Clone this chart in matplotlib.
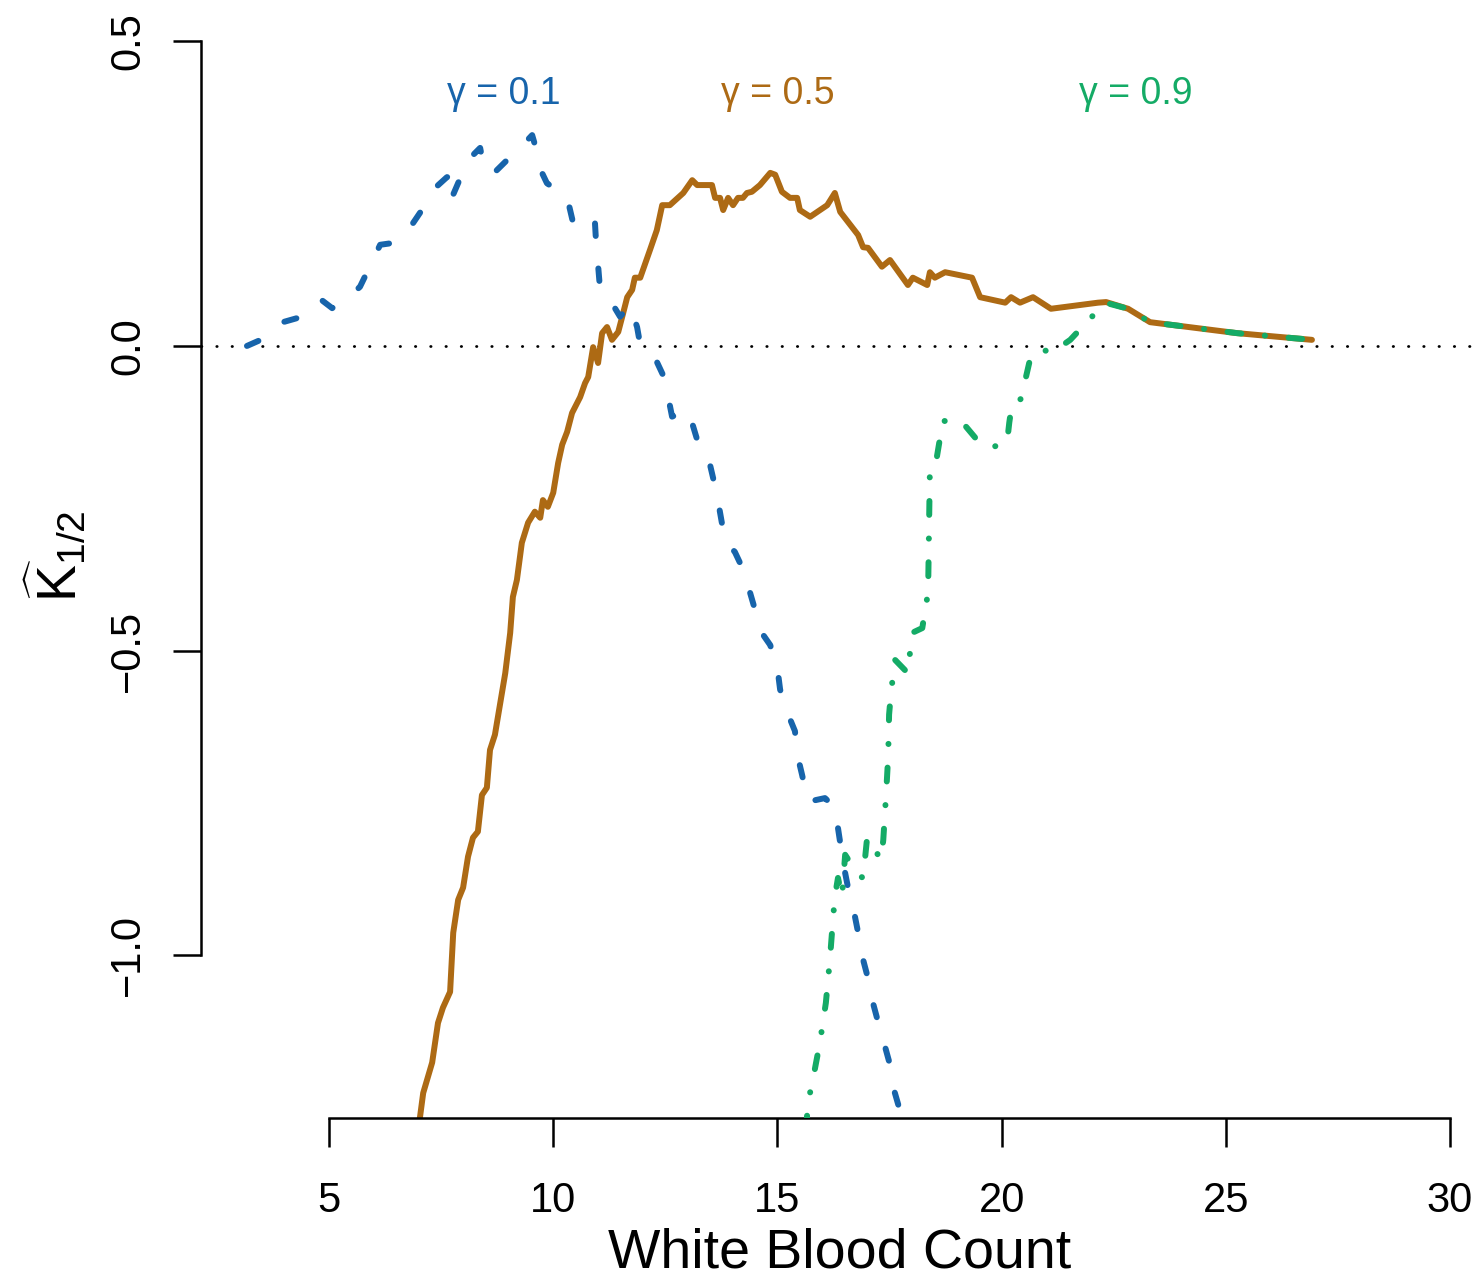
import numpy as np
import matplotlib
matplotlib.use("Agg")
import matplotlib.pyplot as plt

plt.rcParams['font.family'] = ['Liberation Sans', 'DejaVu Sans']
plt.rcParams['mathtext.fontset'] = 'custom'
plt.rcParams['mathtext.rm'] = 'Liberation Sans'
plt.rcParams['mathtext.it'] = 'Liberation Sans:italic'
plt.rcParams['lines.scale_dashes'] = False

## curve for gamma = 0.1 (dashed, blue)
wbc_g1 = [3.17, 3.57, 3.97, 4.40, 4.84, 5.07, 5.42, 5.69, 5.96, 6.14, 6.43, 6.63,
          6.85, 7.07, 7.36, 7.63, 7.70, 7.72, 8.10, 8.37, 8.43, 8.64, 8.97, 9.22,
          9.53, 9.64, 9.75, 9.86, 10.31, 10.44, 10.71, 10.93, 10.95, 11.04, 11.27,
          11.49, 11.71, 11.87, 11.94, 12.11, 12.31, 12.45, 12.54, 12.65, 13.01,
          13.21, 13.43, 13.56, 13.65, 13.76, 13.79, 14.05, 14.21, 14.39, 14.50,
          14.68, 14.84, 15.01, 15.06, 15.24, 15.39, 15.46, 15.55, 15.68, 16.06,
          16.33, 16.35, 16.44, 16.51, 16.62, 16.73, 16.84, 16.91, 17.07, 17.13,
          17.29, 17.40, 17.56, 17.60, 17.78, 17.85]
k_g1 = [0.000, 0.013, 0.039, 0.048, 0.075, 0.062, 0.079, 0.097, 0.138, 0.166, 0.169, 0.187,
        0.199, 0.223, 0.259, 0.277, 0.278, 0.240, 0.305, 0.325, 0.302, 0.281, 0.305, 0.322,
        0.346, 0.318, 0.284, 0.267, 0.244, 0.203, 0.218, 0.203, 0.177, 0.097, 0.075,
        0.048, 0.067, 0.031, 0.002, -0.010, -0.026, -0.048, -0.075, -0.116, -0.105,
        -0.154, -0.174, -0.215, -0.244, -0.290, -0.318, -0.338, -0.363, -0.405, -0.433,
        -0.474, -0.491, -0.535, -0.564, -0.605, -0.632, -0.676, -0.704, -0.748, -0.742,
        -0.761, -0.791, -0.835, -0.865, -0.906, -0.937, -0.978, -1.007, -1.052, -1.078,
        -1.122, -1.150, -1.193, -1.221, -1.267, -1.286]

## curve for gamma = 0.5 (solid, orange)
wbc_g5 = [6.98, 7.03, 7.10, 7.30, 7.43, 7.54, 7.70, 7.77, 7.88, 7.99, 8.10, 8.21, 8.32,
          8.41, 8.52, 8.59, 8.70, 8.93, 9.04, 9.10, 9.19, 9.30, 9.44, 9.59, 9.71, 9.77,
          9.88, 10.00, 10.11, 10.20, 10.31, 10.42, 10.60, 10.71, 10.78, 10.89, 11.00,
          11.09, 11.20, 11.31, 11.45, 11.56, 11.65, 11.76, 11.82, 11.94, 12.16, 12.31,
          12.43, 12.60, 12.90, 13.10, 13.21, 13.54, 13.61, 13.72, 13.79, 13.90, 14.01,
          14.12, 14.23, 14.32, 14.43, 14.61, 14.84, 14.95, 15.10, 15.28, 15.44, 15.50,
          15.73, 16.11, 16.28, 16.40, 16.80, 16.91, 17.02, 17.33, 17.51, 17.91, 18.02,
          18.34, 18.40, 18.51, 18.74, 19.34, 19.52, 20.08, 20.21, 20.41, 20.70, 21.10,
          22.15, 22.33, 22.82, 23.31, 25.25, 26.92]
k_g5 = [-1.286, -1.265, -1.226, -1.176, -1.111, -1.086, -1.060, -0.963, -0.909, -0.889,
        -0.838, -0.807, -0.797, -0.737, -0.725, -0.663, -0.638, -0.537, -0.471, -0.412,
        -0.384, -0.323, -0.290, -0.272, -0.282, -0.253, -0.264, -0.241, -0.192, -0.162,
        -0.141, -0.110, -0.084, -0.061, -0.051, -0.002, -0.028, 0.021, 0.031, 0.010,
        0.023, 0.054, 0.080, 0.092, 0.112, 0.112, 0.158, 0.190, 0.231, 0.231, 0.251,
        0.272, 0.264, 0.264, 0.243, 0.243, 0.223, 0.243, 0.231, 0.243, 0.243, 0.251,
        0.253, 0.264, 0.284, 0.281, 0.253, 0.243, 0.243, 0.223, 0.212, 0.231, 0.251,
        0.220, 0.182, 0.162, 0.161, 0.130, 0.141, 0.100, 0.112, 0.100, 0.121, 0.112,
        0.121, 0.112, 0.080, 0.071, 0.080, 0.071, 0.080, 0.061, 0.071, 0.072, 0.061,
        0.039, 0.021, 0.010]

## curve for gamma = 0.9 (dot-dash, green)
wbc_g9 = [15.64, 15.68, 15.79, 15.95, 16.08, 16.17, 16.24, 16.28, 16.35, 16.44, 16.51,
          16.80, 16.91, 17.00, 17.31, 17.36, 17.42, 17.47, 17.49, 17.53, 17.62, 17.91,
          18.00, 18.23, 18.36, 18.38, 18.40, 18.54, 18.69, 19.12, 19.45, 19.54, 19.79,
          20.12, 20.17, 20.23, 20.43, 20.63, 20.86, 21.12, 21.53, 21.86, 22.31, 22.82,
          23.31, 25.25, 26.70]
k_g9 = [-1.286, -1.242, -1.204, -1.142, -1.078, -1.007, -0.940, -0.904, -0.873, -0.904,
        -0.835, -0.868, -0.873, -0.807, -0.843, -0.811, -0.740, -0.673, -0.605, -0.571,
        -0.515, -0.537, -0.471, -0.463, -0.404, -0.302, -0.200, -0.189, -0.123, -0.125,
        -0.154, -0.161, -0.166, -0.159, -0.126, -0.095, -0.087, -0.023, -0.005, -0.011,
        0.010, 0.036, 0.071, 0.061, 0.039, 0.021, 0.0115]

xticks = [5, 10, 15, 20, 25, 30]
yticks = [-1.0, -0.5, 0.0, 0.5]
ytick_labels = ['\u22121.0', '\u22120.5', '0.0', '0.5']

blue = '#1764AB'
orange = '#AD6A14'
green = '#14AB66'

fig = plt.figure(figsize=(14.81, 12.79), dpi=100)
ax = fig.add_axes([201/1481, 1-1118/1279, 1280/1481, 1118/1279])

ax.axhline(0, color='black', lw=2.0, linestyle=(0, (0.3, 10.7)),
           dash_capstyle='round', zorder=1)

lw = 4.3
ax.plot(wbc_g5, k_g5, color=orange, lw=lw, solid_joinstyle='round',
        solid_capstyle='round', zorder=2)
ax.plot(wbc_g1, k_g1, color=blue, lw=lw, linestyle=(0, (9, 23.5)),
        dash_capstyle='round', dash_joinstyle='round', zorder=3)
ax.plot(wbc_g9, k_g9, color=green, lw=lw, linestyle=(0, (10, 17, 0.1, 17)),
        dash_capstyle='round', dash_joinstyle='round', zorder=4)

ax.text(8.9, 0.397, '\u03b3 = 0.1', color=blue, fontsize=27, ha='center', va='baseline')
ax.text(15.0, 0.397, '\u03b3 = 0.5', color=orange, fontsize=27, ha='center', va='baseline')
ax.text(23.0, 0.397, '\u03b3 = 0.9', color=green, fontsize=27, ha='center', va='baseline')

ax.set_xlim(2.145, 30.69)
ax.set_ylim(-1.267, 0.5677)

for s in ['top', 'right']:
    ax.spines[s].set_visible(False)
ax.spines['left'].set_bounds(-1.0, 0.5)
ax.spines['bottom'].set_bounds(5, 30)
ax.spines['left'].set_linewidth(1.8)
ax.spines['bottom'].set_linewidth(1.8)

ax.set_xticks(xticks)
ax.set_xticklabels([str(t) for t in xticks])
ax.set_yticks(yticks)
ax.set_yticklabels(ytick_labels)
ax.tick_params(axis='x', direction='out', length=21, width=1.8, labelsize=30, pad=24)
ax.tick_params(axis='y', direction='out', length=20, width=1.8, labelsize=30, pad=18,
               labelrotation=90)
for lab in ax.get_yticklabels():
    lab.set_va('center')

fig.text(840/1481, 1-1268/1279, 'White Blood Count', fontsize=40,
         ha='center', va='baseline')
fig.text(56/1481, 1-556/1279, r'$\widehat{\mathrm{K}}_{1/2}$', fontsize=40,
         rotation=90, ha='center', va='center')

fig.savefig('out.png', dpi=100)
